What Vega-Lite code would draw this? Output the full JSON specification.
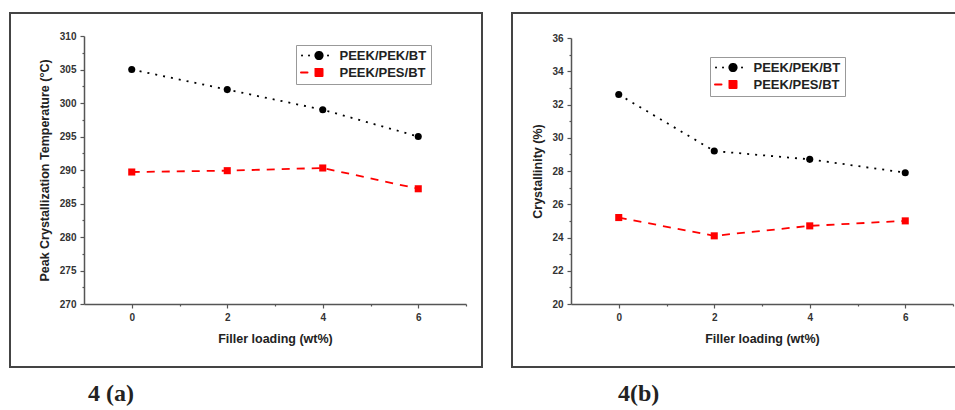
{
  "$schema": "https://vega.github.io/schema/vega-lite/v6.json",
  "background": "white",
  "padding": {"left": 9, "top": 12, "right": 0, "bottom": 0},
  "spacing": 28,
  "resolve": {
    "scale": {"color": "independent"},
    "legend": {"color": "independent"}
  },
  "datasets": {
    "tc": [
      {"loading": 0, "series": "PEEK/PEK/BT", "value": 305},
      {"loading": 2, "series": "PEEK/PEK/BT", "value": 302},
      {"loading": 4, "series": "PEEK/PEK/BT", "value": 299},
      {"loading": 6, "series": "PEEK/PEK/BT", "value": 295},
      {"loading": 0, "series": "PEEK/PES/BT", "value": 289.7},
      {"loading": 2, "series": "PEEK/PES/BT", "value": 289.9},
      {"loading": 4, "series": "PEEK/PES/BT", "value": 290.3},
      {"loading": 6, "series": "PEEK/PES/BT", "value": 287.2}
    ],
    "xc": [
      {"loading": 0, "series": "PEEK/PEK/BT", "value": 32.6},
      {"loading": 2, "series": "PEEK/PEK/BT", "value": 29.2},
      {"loading": 4, "series": "PEEK/PEK/BT", "value": 28.7},
      {"loading": 6, "series": "PEEK/PEK/BT", "value": 27.9},
      {"loading": 0, "series": "PEEK/PES/BT", "value": 25.2},
      {"loading": 2, "series": "PEEK/PES/BT", "value": 24.1},
      {"loading": 4, "series": "PEEK/PES/BT", "value": 24.7},
      {"loading": 6, "series": "PEEK/PES/BT", "value": 25.0}
    ]
  },
  "hconcat": [
    {
      "width": 472,
      "height": 354,
      "data": {"name": "tc"},
      "title": {"text": "4 (a)", "orient": "bottom", "anchor": "start", "dx": 78, "offset": 15, "font": "Liberation Serif", "fontSize": 24, "fontWeight": "bold", "color": "#222"},
      "encoding": {
        "x": {
          "field": "loading", "type": "quantitative",
          "scale": {"domain": [-1, 7], "range": [74, 456], "nice": false, "zero": false},
          "axis": {
            "title": "Filler loading (wt%)", "offset": -63,
            "values": [0, 1, 2, 3, 4, 5, 6, 7],
            "labelExpr": "datum.value % 2 == 0 ? datum.label : ''",
            "tickSize": {"condition": {"test": "datum.value % 2 != 0", "value": 2}, "value": 4},
            "labelPadding": 4, "titlePadding": 10
          }
        },
        "y": {
          "field": "value", "type": "quantitative",
          "scale": {"domain": [270, 310], "range": [291, 23], "nice": false, "zero": false},
          "axis": {
            "title": "Peak Crystallization Temperature (°C)", "offset": -74,
            "values": [270, 272.5, 275, 277.5, 280, 282.5, 285, 287.5, 290, 292.5, 295, 297.5, 300, 302.5, 305, 307.5, 310],
            "labelExpr": "datum.value % 5 == 0 ? datum.label : ''",
            "tickSize": {"condition": {"test": "datum.value % 5 != 0", "value": 2}, "value": 4},
            "labelPadding": 4, "titlePadding": 8
          }
        },
        "color": {
          "field": "series", "type": "nominal",
          "scale": {"domain": ["PEEK/PEK/BT", "PEEK/PES/BT"], "range": ["#000000", "#ff0000"]},
          "legend": {
            "orient": "none", "legendX": 286, "legendY": 32, "title": null,
            "padding": 4, "strokeColor": "#999999", "fillColor": "white",
            "labelFont": "Liberation Sans", "labelFontWeight": "bold", "labelFontSize": 13, "labelColor": "#222",
            "symbolOffset": 12.5, "labelOffset": 14, "rowPadding": 1, "symbolSize": 100,
            "encoding": {
              "symbols": {
                "shape": {"condition": {"test": "datum.value == 'PEEK/PES/BT'", "value": "M-3.6,0H-2.3M-0.7,-0.7H0.7V0.7H-0.7Z"}, "value": "M-3.4,0h0.01M-2,0h0.01M1.8,0h0.01M-0.72,0a0.72,0.72 0 1,0 1.44,0a0.72,0.72 0 1,0 -1.44,0Z"},
                "strokeDash": {"value": [1, 0]},
                "strokeWidth": {"value": 2},
                "strokeCap": {"value": "round"},
                "opacity": {"value": 1}
              }
            }
          }
        }
      },
      "layer": [
        {
          "transform": [{"filter": "datum.series == 'PEEK/PEK/BT'"}],
          "mark": {"type": "line", "strokeWidth": 1.8, "strokeDash": [2, 6]}
        },
        {
          "transform": [{"filter": "datum.series == 'PEEK/PES/BT'"}],
          "mark": {"type": "line", "strokeWidth": 1.8, "strokeDash": [8, 7]}
        },
        {
          "transform": [{"filter": "datum.series == 'PEEK/PEK/BT'"}],
          "mark": {"type": "point", "shape": "circle", "filled": true, "opacity": 1, "size": 50}
        },
        {
          "transform": [{"filter": "datum.series == 'PEEK/PES/BT'"}],
          "mark": {"type": "point", "shape": "square", "filled": true, "opacity": 1, "size": 50}
        }
      ]
    },
    {
      "width": 446,
      "height": 354,
      "data": {"name": "xc"},
      "title": {"text": "4(b)", "orient": "bottom", "anchor": "start", "dx": 106, "offset": 15, "font": "Liberation Serif", "fontSize": 24, "fontWeight": "bold", "color": "#222"},
      "encoding": {
        "x": {
          "field": "loading", "type": "quantitative",
          "scale": {"domain": [-1, 7], "range": [59, 441], "nice": false, "zero": false},
          "axis": {
            "title": "Filler loading (wt%)", "offset": -63,
            "values": [0, 1, 2, 3, 4, 5, 6, 7],
            "labelExpr": "datum.value % 2 == 0 ? datum.label : ''",
            "tickSize": {"condition": {"test": "datum.value % 2 != 0", "value": 2}, "value": 4},
            "labelPadding": 4, "titlePadding": 10
          }
        },
        "y": {
          "field": "value", "type": "quantitative",
          "scale": {"domain": [20, 36], "range": [291, 25], "nice": false, "zero": false},
          "axis": {
            "title": "Crystallinity (%)", "offset": -59,
            "values": [20, 21, 22, 23, 24, 25, 26, 27, 28, 29, 30, 31, 32, 33, 34, 35, 36],
            "labelExpr": "datum.value % 2 == 0 ? datum.label : ''",
            "tickSize": {"condition": {"test": "datum.value % 2 != 0", "value": 2}, "value": 4},
            "labelPadding": 4, "titlePadding": 7
          }
        },
        "color": {
          "field": "series", "type": "nominal",
          "scale": {"domain": ["PEEK/PEK/BT", "PEEK/PES/BT"], "range": ["#000000", "#ff0000"]},
          "legend": {
            "orient": "none", "legendX": 198, "legendY": 44, "title": null,
            "padding": 4, "strokeColor": "#999999", "fillColor": "white",
            "labelFont": "Liberation Sans", "labelFontWeight": "bold", "labelFontSize": 13, "labelColor": "#222",
            "symbolOffset": 12.5, "labelOffset": 14, "rowPadding": 1, "symbolSize": 100,
            "encoding": {
              "symbols": {
                "shape": {"condition": {"test": "datum.value == 'PEEK/PES/BT'", "value": "M-3.6,0H-2.3M-0.7,-0.7H0.7V0.7H-0.7Z"}, "value": "M-3.4,0h0.01M-2,0h0.01M1.8,0h0.01M-0.72,0a0.72,0.72 0 1,0 1.44,0a0.72,0.72 0 1,0 -1.44,0Z"},
                "strokeDash": {"value": [1, 0]},
                "strokeWidth": {"value": 2},
                "strokeCap": {"value": "round"},
                "opacity": {"value": 1}
              }
            }
          }
        }
      },
      "layer": [
        {
          "transform": [{"filter": "datum.series == 'PEEK/PEK/BT'"}],
          "mark": {"type": "line", "strokeWidth": 1.8, "strokeDash": [2, 6]}
        },
        {
          "transform": [{"filter": "datum.series == 'PEEK/PES/BT'"}],
          "mark": {"type": "line", "strokeWidth": 1.8, "strokeDash": [8, 7]}
        },
        {
          "transform": [{"filter": "datum.series == 'PEEK/PEK/BT'"}],
          "mark": {"type": "point", "shape": "circle", "filled": true, "opacity": 1, "size": 50}
        },
        {
          "transform": [{"filter": "datum.series == 'PEEK/PES/BT'"}],
          "mark": {"type": "point", "shape": "square", "filled": true, "opacity": 1, "size": 50}
        }
      ]
    }
  ],
  "config": {
    "view": {"stroke": "#444444", "strokeWidth": 2},
    "axis": {
      "grid": false,
      "domainColor": "#555555", "domainWidth": 1.5,
      "tickColor": "#555555", "tickWidth": 1.2,
      "labelFont": "Liberation Sans", "labelFontWeight": "bold", "labelFontSize": 10, "labelColor": "#333333",
      "labelOverlap": false, "labelFlush": false, "labelBound": false,
      "titleFont": "Liberation Sans", "titleFontWeight": "bold", "titleFontSize": 12.5, "titleColor": "#222222"
    }
  }
}
